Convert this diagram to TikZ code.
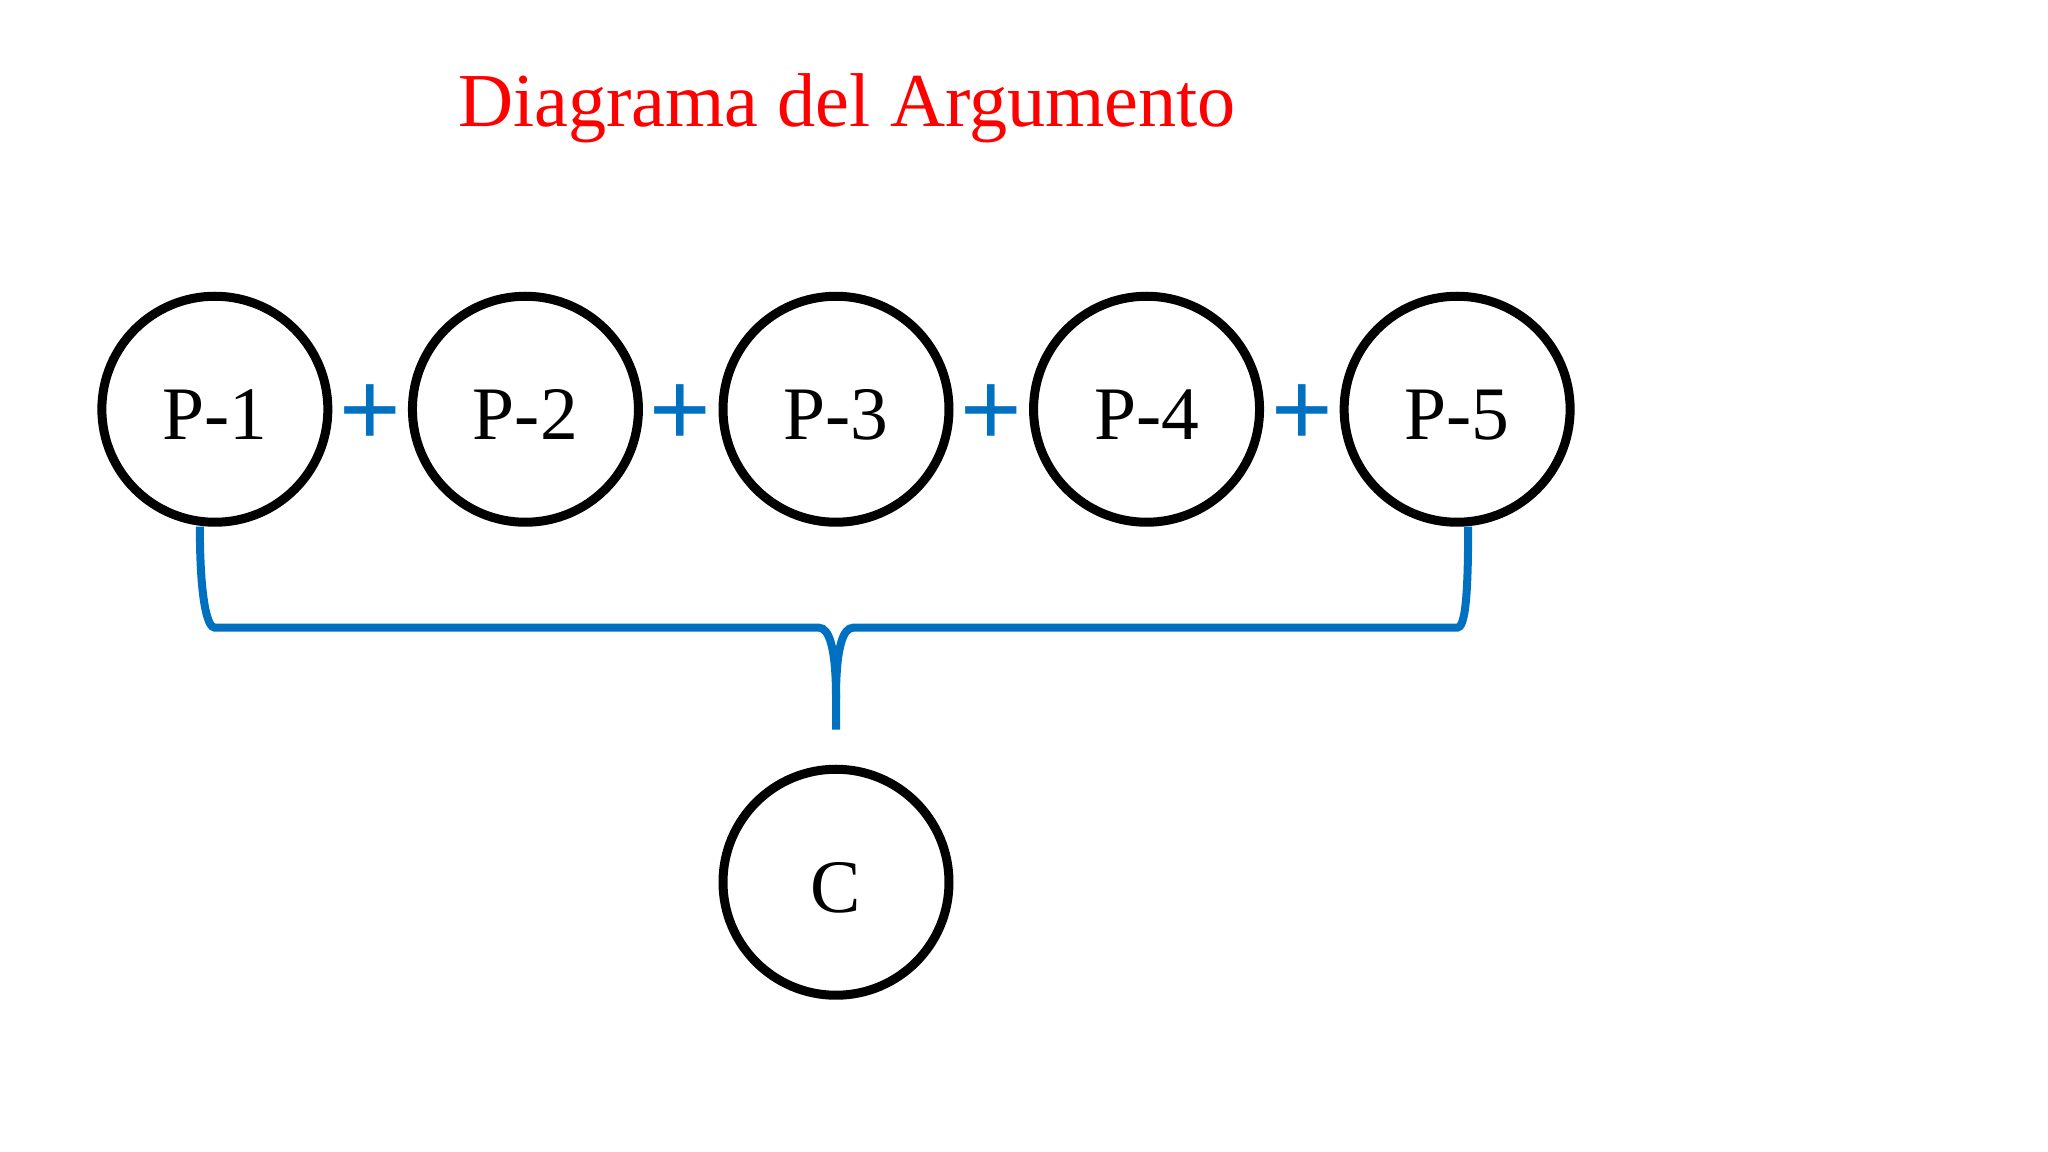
\documentclass[tikz,border=0pt]{standalone}
\usepackage{fontspec}
\setmainfont{Liberation Serif}
\newfontfamily\plusfont{Liberation Sans}
\definecolor{argblue}{HTML}{0070C0}

\begin{document}
\begin{tikzpicture}[x=0.1mm, y=-0.1mm,
    title_text/.style ={font=\fontsize{21.7}{26}\selectfont, text=red,
      inner sep=0pt},
    prem_circle/.style ={circle, draw=black, line width=0.9mm, fill=white,
      minimum size=22.6mm, inner sep=0pt, text height=6.1mm, text depth=0pt,
      font=\fontsize{21.5}{26}\selectfont},
    plus_sign/.style ={inner sep=0pt, minimum width=6mm, text=argblue,
      yshift=-0.6mm, font=\plusfont\fontsize{30}{32}\selectfont},
    brace_line/.style ={draw=argblue, line width=0.8mm}]
    \useasboundingbox (0,0) rectangle (2048,1152);
    % title above the diagram
    \node [title_text, anchor=base] (title) at (847,127) {Diagrama del Argumento};
    % premises in the first row, conclusion under P-3
    \matrix [column sep=0.7mm, row sep=23.8mm] at (836,645.75) {
      \node [prem_circle] (p1) {P-1};
      & \node [plus_sign] (plus1) {+};
      & \node [prem_circle] (p2) {P-2};
      & \node [plus_sign] (plus2) {+};
      & \node [prem_circle] (p3) {P-3};
      & \node [plus_sign] (plus3) {+};
      & \node [prem_circle] (p4) {P-4};
      & \node [plus_sign] (plus4) {+};
      & \node [prem_circle] (p5) {P-5}; \\
      & & & & \node [prem_circle] (c) {C}; & & & & \\
    };% end matrix
    % points of the brace
    \coordinate (tip) at ([yshift=3.5mm]c.north);
    \coordinate (bar) at ([yshift=10.2mm]tip);
    \begin{scope}[every path/.style=brace_line]
      % left half of the brace
      \path ([xshift=-1.5mm]p1.south) .. controls +(0,-7mm) and +(-0.8mm,0) .. (p1.south |- bar)
        -- ([xshift=-1.7mm]bar) .. controls +(1mm,0) and +(0,5mm) .. ([yshift=-7mm]bar) -- (tip);
      % right half of the brace
      \path ([xshift=1.1mm]p5.south) .. controls +(0,-7mm) and +(0.8mm,0) .. (p5.south |- bar)
        -- ([xshift=1.7mm]bar) .. controls +(-1mm,0) and +(0,5mm) .. ([yshift=-7mm]bar);
    \end{scope}
\end{tikzpicture}
\end{document}
